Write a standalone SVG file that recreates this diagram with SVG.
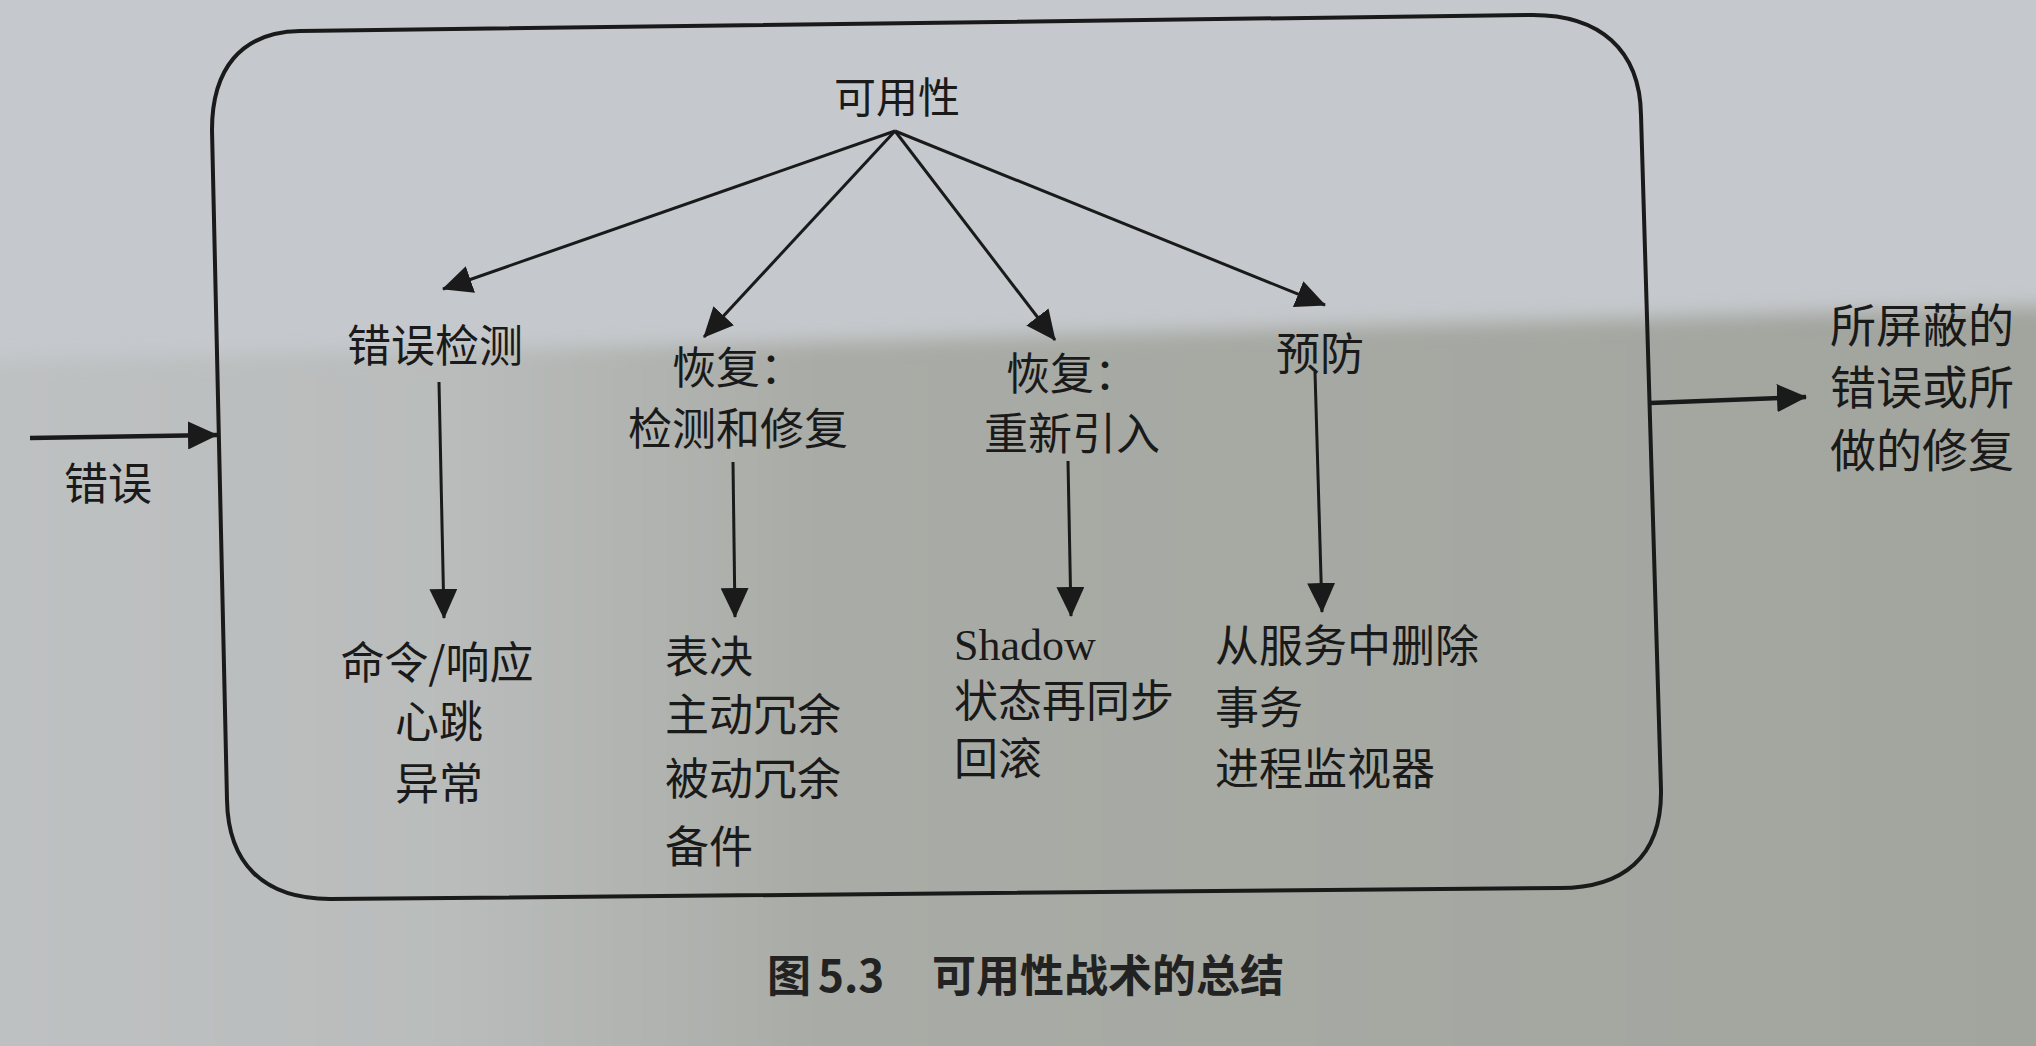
<svg xmlns="http://www.w3.org/2000/svg" width="2036" height="1046" viewBox="0 0 2036 1046">
  <defs>
    <linearGradient id="shade" x1="0" y1="0" x2="2036" y2="0" gradientUnits="userSpaceOnUse">
      <stop offset="0" stop-color="#bec1c2"/>
      <stop offset="0.22" stop-color="#b9bcbb"/>
      <stop offset="0.4" stop-color="#a9aca6"/>
      <stop offset="1" stop-color="#a2a59e"/>
    </linearGradient>
    <filter id="soft" x="-5%" y="-10%" width="110%" height="120%">
      <feGaussianBlur stdDeviation="9"/>
    </filter>
    <marker id="head" viewBox="0 0 30 28" refX="29" refY="14" markerWidth="30" markerHeight="28" markerUnits="userSpaceOnUse" orient="auto">
      <path d="M0,0 L30,14 L0,28 Z" fill="#1a1a1a"/>
    </marker>
    <style>
      .t { font-family: "Noto Sans CJK SC", "Noto Sans", sans-serif; font-size: 44px; fill: #1a1a1a; }
      .mid { text-anchor: middle; }
      .ser { font-family: "Liberation Serif", "Noto Sans CJK SC", serif; }
      .cap { font-weight: 700; fill: #222; }
      .conn line { stroke: #1a1a1a; stroke-width: 3; marker-end: url(#head); }
      .conn line.thick { stroke-width: 4.5; }
      .frame { fill: none; stroke: #1a1a1a; stroke-width: 4; }
    </style>
  </defs>

  <!-- paper background -->
  <rect x="0" y="0" width="2036" height="1046" fill="#c5c8cc"/>
  <path d="M -40,362 L 700,345 L 2080,305 L 2080,1090 L -40,1090 Z" fill="url(#shade)" filter="url(#soft)"/>

  <!-- outer rounded frame -->
  <g id="frame">
    <path class="frame" d="M 300,31 L 1530,15 C 1600,14 1640,50 1641,115 L 1661,790 C 1662,858 1622,888 1560,888 L 330,899 C 262,899 228,862 227,800 L 212,130 C 212,70 240,32 300,31 Z"/>
  </g>

  <!-- connectors -->
  <g id="connectors" class="conn">
    <line x1="895" y1="131" x2="443" y2="289"/>
    <line x1="895" y1="131" x2="704" y2="337"/>
    <line x1="895" y1="131" x2="1055" y2="340"/>
    <line x1="895" y1="131" x2="1325" y2="305"/>
    <line x1="439" y1="382" x2="444" y2="618"/>
    <line x1="733" y1="462" x2="735" y2="617"/>
    <line x1="1068" y1="461" x2="1071" y2="616"/>
    <line x1="1315" y1="372" x2="1322" y2="612"/>
    <line class="thick" x1="30" y1="438" x2="217" y2="435"/>
    <line class="thick" x1="1650" y1="403" x2="1806" y2="397"/>
  </g>

  <!-- nodes -->
  <g id="availability">
    <text class="t mid" x="897" y="113" style="font-size:42px">可用性</text>
  </g>
  <g id="fault-detection">
    <text class="t mid" x="435" y="362">错误检测</text>
  </g>
  <g id="recovery-repair">
    <text class="t mid" x="738" y="384">恢复：</text>
    <text class="t mid" x="738" y="445">检测和修复</text>
  </g>
  <g id="recovery-reintro">
    <text class="t mid" x="1072" y="390">恢复：</text>
    <text class="t mid" x="1072" y="450">重新引入</text>
  </g>
  <g id="prevention">
    <text class="t mid" x="1320" y="370">预防</text>
  </g>
  <g id="input-fault">
    <text class="t mid" x="108" y="500">错误</text>
  </g>
  <g id="output">
    <text class="t" x="1830" y="342" style="font-size:46px">所屏蔽的</text>
    <text class="t" x="1830" y="404" style="font-size:46px">错误或所</text>
    <text class="t" x="1830" y="467" style="font-size:46px">做的修复</text>
  </g>
  <g id="detection-tactics">
    <text class="t mid" x="437" y="679">命令/响应</text>
    <text class="t mid" x="439" y="738">心跳</text>
    <text class="t mid" x="439" y="800">异常</text>
  </g>
  <g id="repair-tactics">
    <text class="t" x="665" y="673">表决</text>
    <text class="t" x="665" y="731">主动冗余</text>
    <text class="t" x="665" y="795">被动冗余</text>
    <text class="t" x="665" y="863">备件</text>
  </g>
  <g id="reintro-tactics">
    <text class="t ser" x="954" y="660">Shadow</text>
    <text class="t" x="954" y="717">状态再同步</text>
    <text class="t" x="954" y="775">回滚</text>
  </g>
  <g id="prevention-tactics">
    <text class="t" x="1215" y="662">从服务中删除</text>
    <text class="t" x="1215" y="724">事务</text>
    <text class="t" x="1215" y="785">进程监视器</text>
  </g>

  <!-- caption -->
  <g id="caption">
    <text class="t cap" y="992"><tspan x="767">图</tspan><tspan x="818">5.3</tspan><tspan x="932">可用性战术的总结</tspan></text>
  </g>
</svg>
